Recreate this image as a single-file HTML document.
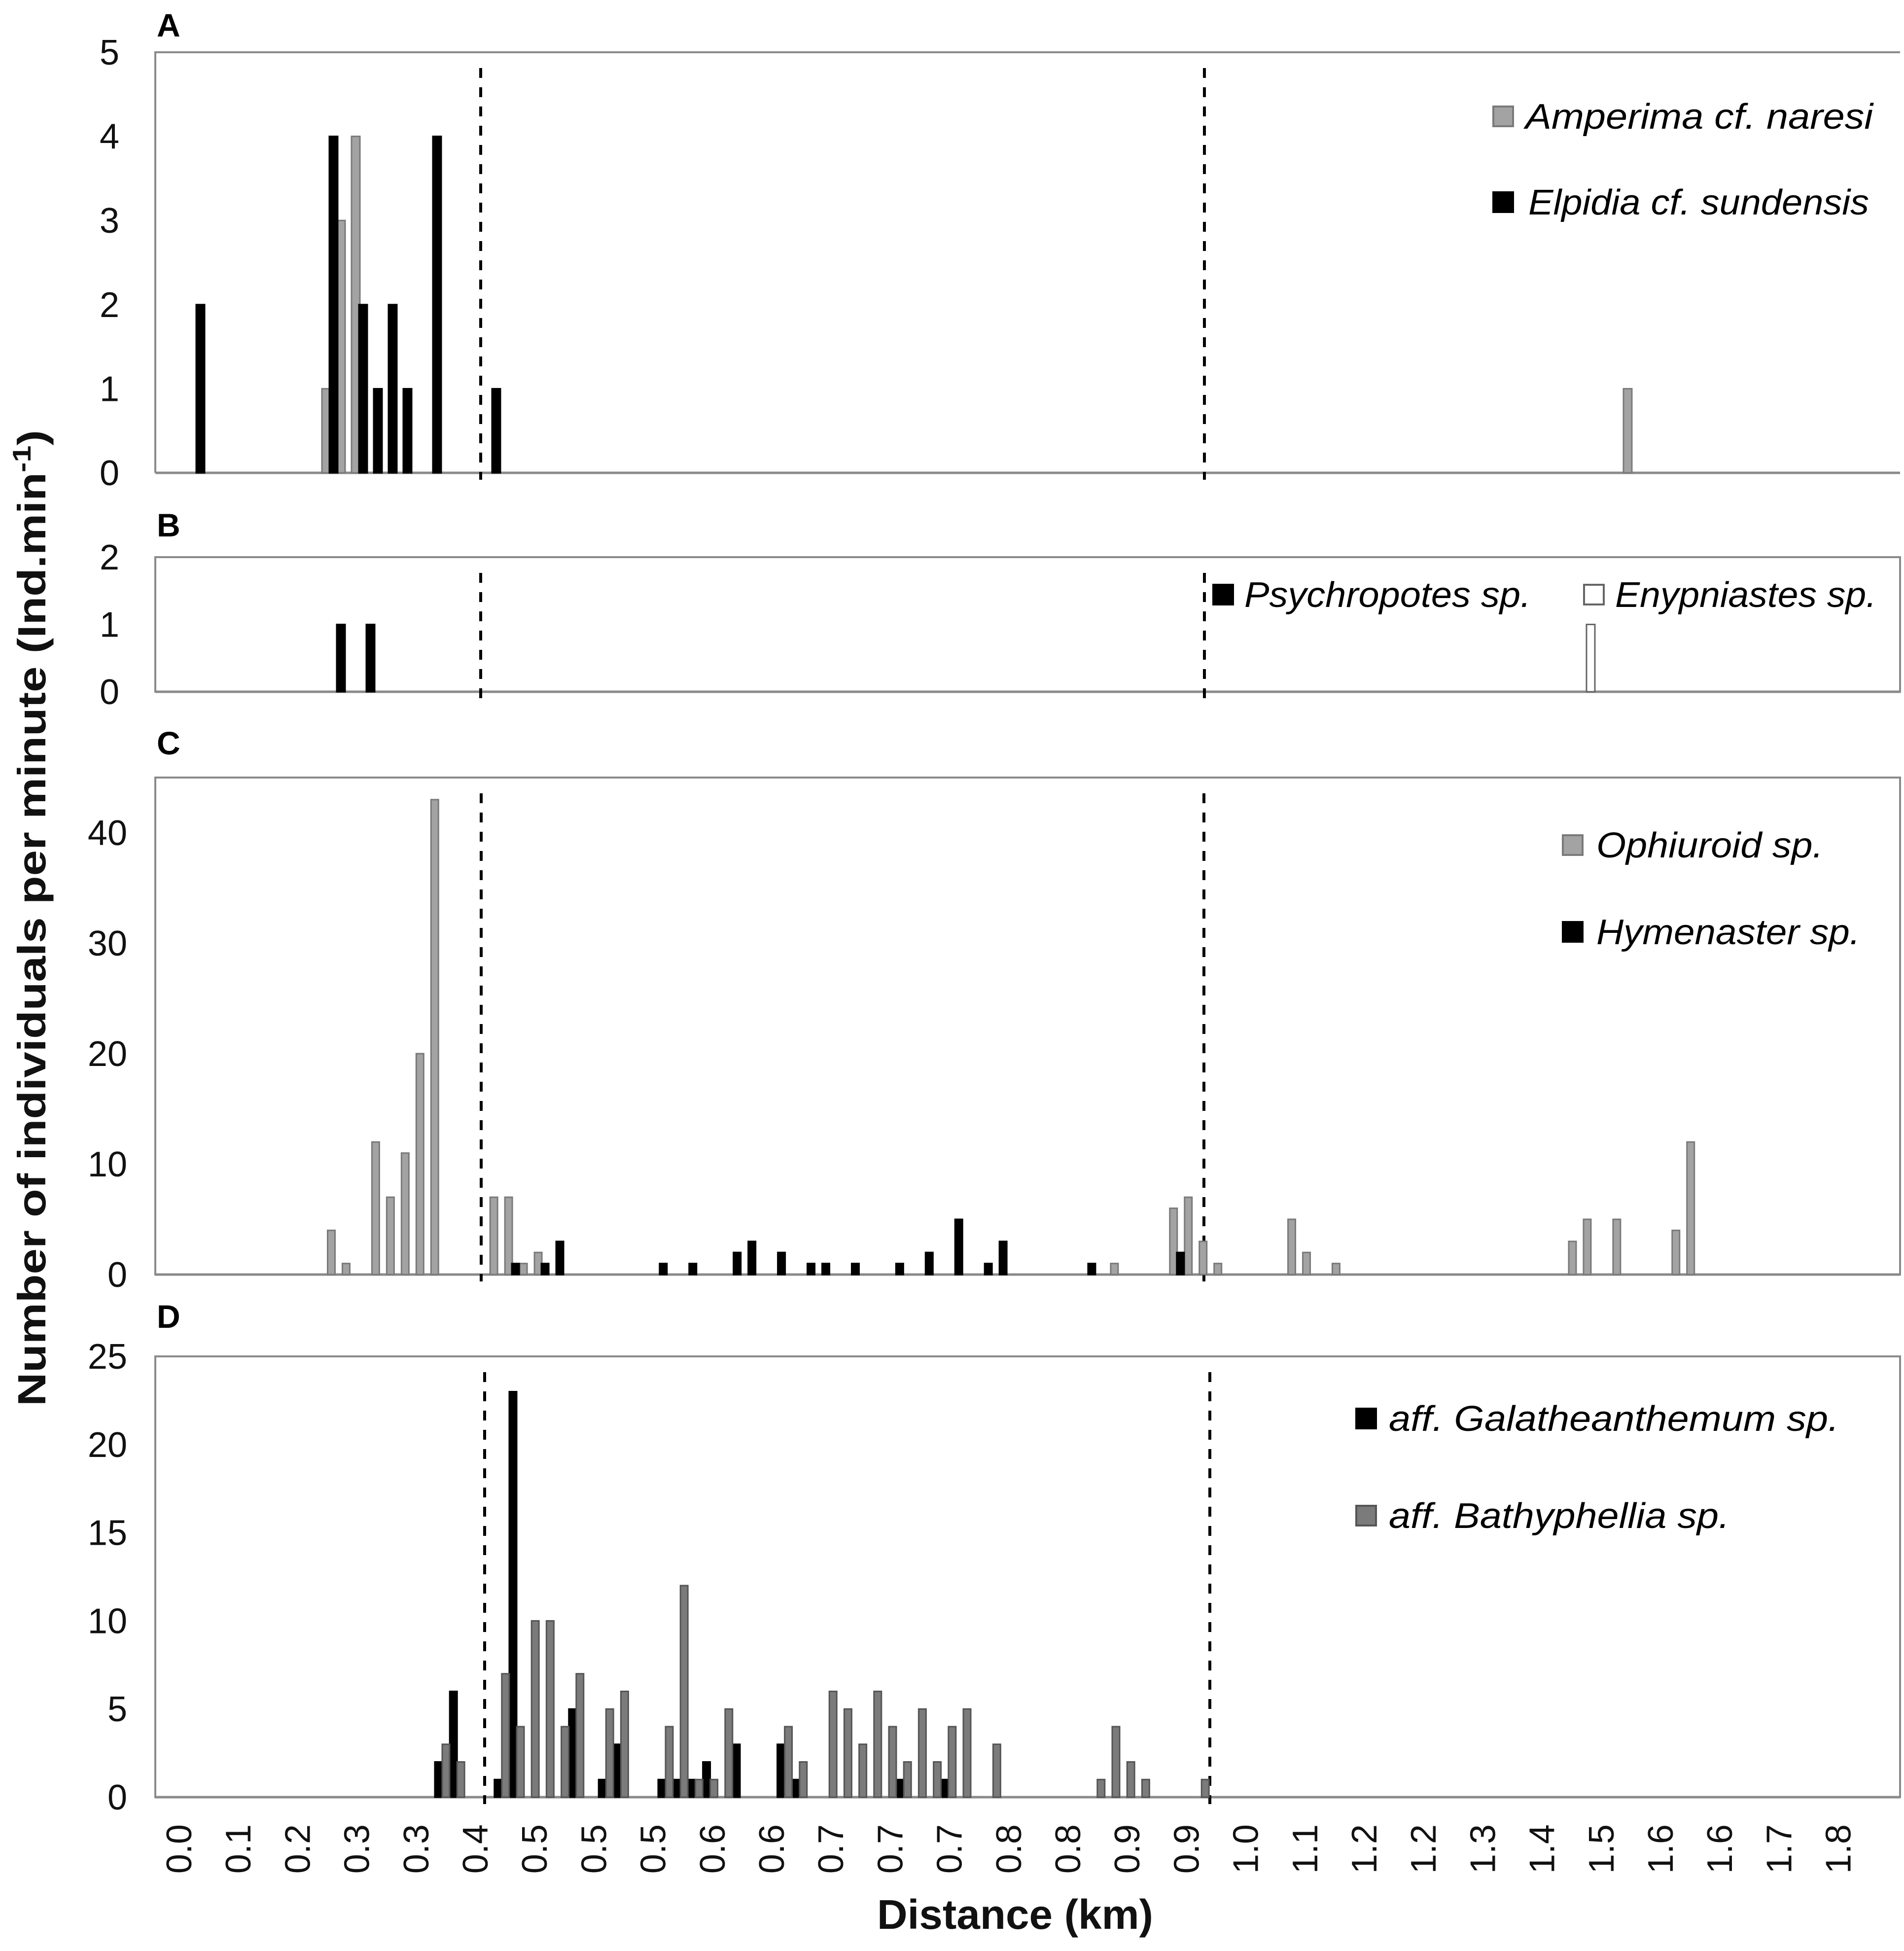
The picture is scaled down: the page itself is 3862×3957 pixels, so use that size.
<!DOCTYPE html>
<html><head><meta charset="utf-8"><style>html,body{margin:0;padding:0;background:#fff}svg{display:block}</style></head>
<body>
<svg id="chart" xmlns="http://www.w3.org/2000/svg" width="3862" height="3957" viewBox="0 0 3862 3957" font-family="'Liberation Sans', sans-serif">
<rect x="0" y="0" width="3862" height="3957" fill="#fff"/>
<g id="layer"></g>
</svg>
<script>
// ---- data ----
const xTickLabels = ["0.0","0.1","0.2","0.3","0.3","0.4","0.5","0.5","0.5","0.6","0.6","0.7","0.7","0.7","0.8","0.8","0.9","0.9","1.0","1.1","1.2","1.2","1.3","1.4","1.5","1.6","1.6","1.7","1.8"];
// Panel A
const aTicks = [0,1,2,3,4,5];
const aGreyCats = [12,13,14,100];
const aGreyVals = [1,3,4,1];
const aBlackCats = [3,12,14,15,16,17,19,23];
const aBlackVals = [2,4,2,1,2,1,4,1];
// Panel B
const bTicks = [0,1,2];
const bBlackCats = [13,15];
const bBlackVals = [1,1];
const bWhiteCats = [97];
const bWhiteVals = [1];
// Panel C
const cTicks = [0,10,20,30,40];
const cGreyCats = [0,1,3,4,5,6,7,11,12,13,14,53,57,58,59,60,65,66,68,84,85,87,91,92];
const cGreyVals = [4,1,12,7,11,20,43,7,7,1,2,1,6,7,3,1,5,2,1,3,5,5,4,12];
const cBlackCats = [12,14,15,22,24,27,28,30,32,33,35,38,40,42,44,45,51,57];
const cBlackVals = [1,1,3,1,1,2,3,2,1,1,1,1,2,5,1,3,1,2];
// Panel D
const dTicks = [0,5,10,15,20,25];
const dBlackCats = [0,1,4,5,9,11,12,15,16,17,18,20,23,24,31,34];
const dBlackVals = [2,6,1,23,5,1,3,1,1,1,2,3,3,1,1,1];
const dGreyCats = [0,1,4,5,6,7,8,9,11,12,15,16,17,18,19,23,24,26,27,28,29,30,31,32,33,34,35,37,44,45,46,47,51];
const dGreyVals = [3,2,7,4,10,10,4,7,5,6,4,12,1,1,5,4,2,6,5,3,6,4,2,5,2,4,5,3,1,4,2,1,1];

const NS = "http://www.w3.org/2000/svg";
const layer = document.getElementById('layer');
function mk(tag, attrs, parent) {
  const e = document.createElementNS(NS, tag);
  for (const k in attrs) e.setAttribute(k, attrs[k]);
  (parent || layer).appendChild(e);
  return e;
}
const L = 315, R = 3854;

function panel(cfg) {
  const g = mk('g', {});
  
  
  const y = v => cfg.bottom - (v / cfg.max) * (cfg.bottom - cfg.top);
  const x = i => cfg.x0 + cfg.step * i;
  // frame
  const fr = mk('path', {d: cfg.box ? `M${L},${cfg.top}H${R}V${cfg.bottom}H${L}Z` : `M${L},${cfg.bottom}V${cfg.top}H${R}`, fill:'none', stroke:'#8a8a8a', 'stroke-width':4}, g);
  
  
  const ax = mk('line', {x1:L, x2:R, y1:cfg.bottom, y2:cfg.bottom, stroke:'#8a8a8a', 'stroke-width':5}, g);
  
  
  // ticks
  cfg.ticks.forEach(t => {
    const tx = mk('text', {x:cfg.tickX, y:y(t)+25, 'text-anchor':'end', 'font-size':72, fill:'#111'}, g);
    tx.textContent = t;
    
    
  });
  // letter
  const lt = mk('text', {x:318, y:cfg.letterY, 'font-size':66, 'font-weight':'bold', fill:'#000'}, g);
  lt.textContent = cfg.letter;
  
  
  // dashed lines
  cfg.dash.forEach(dx => {
    const dl = mk('line', {x1:dx, x2:dx, y1:cfg.top+32, y2:cfg.bottom+14, stroke:'#000', 'stroke-width':6, 'stroke-dasharray':'20 19'}, g);
    
    
  });
  // bars
  cfg.series.forEach(s => {
    s.cats.forEach((c, k) => {
      const v = s.vals[k];
      const cx = x(c) + s.off;
      const r = mk('rect', {x:cx - cfg.bw/2, y:y(v), width:cfg.bw, height:cfg.bottom - y(v), fill:s.fill, stroke:s.stroke, 'stroke-width':3}, g);
      
      
    });
  });
  // legend
  cfg.legend.forEach(le => {
    const sq = mk('rect', {x:le.sx, y:le.cy-20, width:40, height:40, fill:le.fill, stroke:le.stroke, 'stroke-width':4}, g);
    
    
    const tt = mk('text', {x:le.tx, y:le.cy+25, 'font-size':72, 'font-style':'italic', fill:'#000', textLength:le.w, lengthAdjust:'spacingAndGlyphs'}, g);
    tt.textContent = le.label;
    
    
  });
}

const G1 = '#a3a3a3', G1s = '#7a7a7a', G2 = '#7b7b7b', G2s = '#555';

panel({name:'panel-a', letter:'A', letterY:74, top:106, bottom:959, max:5, ticks:aTicks, tickX:242, box:false,
  x0:309, step:30, bw:17, dash:[975,2443],
  series:[{key:'amperima', cats:aGreyCats, vals:aGreyVals, off:-7.5, fill:G1, stroke:G1s},
          {key:'elpidia', cats:aBlackCats, vals:aBlackVals, off:7.5, fill:'#000', stroke:'#000'}],
  legend:[{sx:3029, cy:236, fill:G1, stroke:G1s, tx:3094, w:705, label:'Amperima cf. naresi'},
          {sx:3029, cy:410, fill:'#000', stroke:'#000', tx:3100, w:691, label:'Elpidia cf. sundensis'}]});

panel({name:'panel-b', letter:'B', letterY:1088, top:1130, bottom:1403, max:2, ticks:bTicks, tickX:242, box:true,
  x0:309, step:30, bw:17, dash:[975,2443],
  series:[{key:'psychropotes', cats:bBlackCats, vals:bBlackVals, off:-7.5, fill:'#000', stroke:'#000'},
          {key:'enypniastes', cats:bWhiteCats, vals:bWhiteVals, off:7.5, fill:'#fff', stroke:'#666'}],
  legend:[{sx:2461, cy:1206, fill:'#000', stroke:'#000', tx:2524, w:581, label:'Psychropotes sp.'},
          {sx:3213, cy:1206, fill:'#fff', stroke:'#666', tx:3276, w:530, label:'Enypniastes sp.'}]});

panel({name:'panel-c', letter:'C', letterY:1530, top:1577, bottom:2585, max:45, ticks:cTicks, tickX:258, box:true,
  x0:679, step:29.97, bw:15, dash:[976,2442],
  series:[{key:'ophiuroid', cats:cGreyCats, vals:cGreyVals, off:-7, fill:G1, stroke:G1s},
          {key:'hymenaster', cats:cBlackCats, vals:cBlackVals, off:7, fill:'#000', stroke:'#000'}],
  legend:[{sx:3170, cy:1714, fill:G1, stroke:G1s, tx:3238, w:460, label:'Ophiuroid sp.'},
          {sx:3170, cy:1890, fill:'#000', stroke:'#000', tx:3238, w:535, label:'Hymenaster sp.'}]});

panel({name:'panel-d', letter:'D', letterY:2693, top:2751, bottom:3645, max:25, ticks:dTicks, tickX:258, box:true,
  x0:897, step:30.2, bw:15, dash:[983,2454],
  series:[{key:'galatheanthemum', cats:dBlackCats, vals:dBlackVals, off:-7.5, fill:'#000', stroke:'#000'},
          {key:'bathyphellia', cats:dGreyCats, vals:dGreyVals, off:7.5, fill:G2, stroke:G2s}],
  legend:[{sx:2751, cy:2877, fill:'#000', stroke:'#000', tx:2817, w:913, label:'aff. Galatheanthemum sp.'},
          {sx:2751, cy:3074, fill:G2, stroke:G2s, tx:2817, w:691, label:'aff. Bathyphellia sp.'}]});

// x tick labels
xTickLabels.forEach((lab, k) => {
  const lx = 363 + 120.2 * k;
  const t = mk('text', {x:0, y:0, transform:`translate(${lx + 25},3700) rotate(-90)`, 'text-anchor':'end', 'font-size':72, fill:'#111'});
  t.textContent = lab;
  
  
});

const xt = mk('text', {x:1779, y:3912, 'font-size':84, 'font-weight':'bold', fill:'#111', textLength:560, lengthAdjust:'spacingAndGlyphs'});
xt.textContent = 'Distance (km)';



const yt = mk('text', {x:0, y:0, transform:'translate(92,1862) rotate(-90)', 'text-anchor':'middle', 'font-size':80, 'font-weight':'bold', fill:'#111', textLength:1980, lengthAdjust:'spacingAndGlyphs'});


yt.appendChild(document.createTextNode('Number of individuals per minute (Ind.min'));
const sup = mk('tspan', {dy:-30, 'font-size':52}, yt);
sup.textContent = '-1';
const close = mk('tspan', {dy:30}, yt);
close.textContent = ')';
</script>
</body></html>
